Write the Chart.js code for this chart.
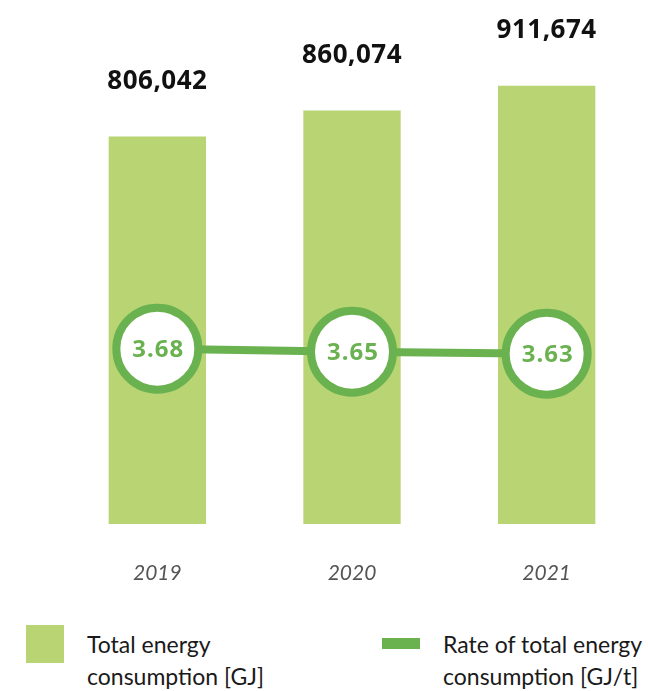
<!DOCTYPE html>
<html>
<head>
<meta charset="utf-8">
<script src="https://cdn.jsdelivr.net/npm/chart.js@4.4.1/dist/chart.umd.min.js"></script>
<style>
  body { margin: 0; background: #fff; }
  #wrap { position: relative; width: 648px; height: 691px; }
  #chart { position: absolute; left: 0; top: 0; }
  .leg { position: absolute; font-family: Lato, "Open Sans", sans-serif; font-size: 23px; line-height: 32px; color: #1a1a1a; }
  .box { position: absolute; left: 26px; top: 625px; width: 38px; height: 38px; background: #b8d473; }
  .dash { position: absolute; left: 382px; top: 638px; width: 38px; height: 11px; background: #6ab150; }
</style>
</head>
<body>
<div id="wrap">
  <canvas id="chart" width="648" height="600"></canvas>
  <div class="box"></div>
  <div class="leg" style="left:87px; top:628px;">Total energy<br>consumption [GJ]</div>
  <div class="dash"></div>
  <div class="leg" style="left:443px; top:628px;">Rate of total energy<br>consumption [GJ/t]</div>
</div>
<script>
var years = ["2019", "2020", "2021"];
var totalEnergy = [806042, 860074, 911674];   // GJ
var energyRate = [3.68, 3.65, 3.63];          // GJ/t

var barColor = '#b8d473';
var lineColor = '#6ab150';

// numbers above bars and inside the circles
var valueLabels = {
  id: 'valueLabels',
  afterDatasetsDraw: function (chart) {
    var ctx = chart.ctx;
    ctx.save();
    ctx.textAlign = 'center';

    var barMeta = chart.getDatasetMeta(0);
    ctx.font = 'bold 26px "Noto Sans", sans-serif';
    ctx.fillStyle = '#111';
    ctx.textBaseline = 'alphabetic';
    ctx.letterSpacing = '0.5px';
    barMeta.data.forEach(function (el, i) {
      ctx.fillText(totalEnergy[i].toLocaleString('en-US'), el.x, el.y - 48);
    });

    var lineMeta = chart.getDatasetMeta(1);
    ctx.font = 'bold 24px "Noto Sans", sans-serif';
    ctx.fillStyle = lineColor;
    ctx.textBaseline = 'middle';
    ctx.letterSpacing = '1px';
    lineMeta.data.forEach(function (el, i) {
      ctx.fillText(energyRate[i].toFixed(2), el.x + 1, el.y + 1);
    });
    ctx.restore();
  }
};

new Chart(document.getElementById('chart'), {
  type: 'bar',
  data: {
    labels: years,
    datasets: [
      {
        type: 'bar',
        label: 'Total energy consumption [GJ]',
        data: totalEnergy,
        backgroundColor: barColor,
        barPercentage: 1,
        categoryPercentage: 0.5,
        yAxisID: 'y',
        order: 1
      },
      {
        type: 'line',
        label: 'Rate of total energy consumption [GJ/t]',
        data: energyRate,
        borderColor: lineColor,
        borderWidth: 8,
        pointRadius: 41,
        pointHoverRadius: 41,
        pointBorderWidth: 8,
        pointBorderColor: lineColor,
        pointBackgroundColor: '#fff',
        yAxisID: 'y1',
        order: 0,
        clip: false
      }
    ]
  },
  options: {
    responsive: false,
    animation: false,
    events: [],
    layout: { autoPadding: false, padding: { left: 60, right: 4, top: 0, bottom: 0 } },
    plugins: {
      legend: { display: false },
      tooltip: { enabled: false }
    },
    scales: {
      x: {
        grid: { display: false, drawTicks: false },
        border: { display: false },
        ticks: {
          padding: 37,
          color: '#555',
          font: { family: 'Lato, "Open Sans", sans-serif', size: 21, style: 'italic' }
        },
        afterFit: function (scale) { scale.height = 76; }
      },
      y: { display: false, min: 0, max: 1090000 },
      y1: { display: false, min: 1.94, max: 7.14 }
    }
  },
  plugins: [valueLabels]
});
</script>
</body>
</html>
